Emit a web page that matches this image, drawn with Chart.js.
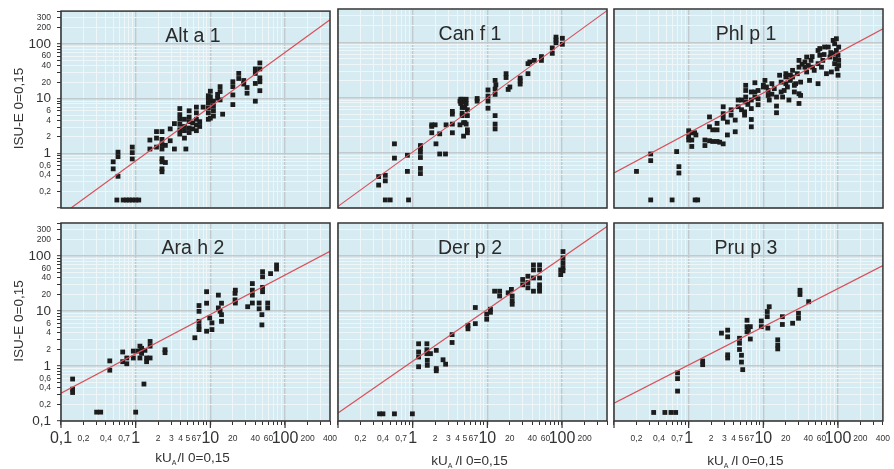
<!DOCTYPE html>
<html><head><meta charset="utf-8">
<script src="https://cdn.jsdelivr.net/npm/chart.js@4/dist/chart.umd.min.js"></script>
<style>
html,body{margin:0;padding:0;background:#fff;}
#wrap{position:relative;width:894px;height:469px;overflow:hidden;}
canvas{position:absolute;left:0;top:0;}
</style></head><body><div id="wrap">
<canvas id="c0" width="894" height="469"></canvas>
<canvas id="c1" width="894" height="469"></canvas>
<canvas id="c2" width="894" height="469"></canvas>
<canvas id="c3" width="894" height="469"></canvas>
<canvas id="c4" width="894" height="469"></canvas>
<canvas id="c5" width="894" height="469"></canvas>
</div>
<script>
// ---------- DATA ----------
const panelNames = ['Alt a 1','Can f 1','Phl p 1','Ara h 2','Der p 2','Pru p 3'];
const yTitle = 'ISU-E 0=0,15';
const xTitleMain = 'kU';
const xTitleSub = 'A';
const xTitleRest = '/l 0=0,15';

const altPoints = [[0.5,0.7],[0.5,0.52],[0.58,1.05],[0.58,0.87],[0.58,0.38],[0.56,0.14],[0.68,0.14],[0.75,0.14],[0.82,0.14],[0.9,0.14],[1.0,0.14],[1.1,0.14],
[0.9,1.3],[0.9,1.03],[0.9,0.79],[1.55,1.75],[1.55,1.2],[1.9,2.5],[1.9,1.9],[1.9,1.3],
[2.25,2.5],[2.25,1.8],[2.25,1.45],[2.25,1.2],[2.25,0.8],[2.25,0.7],[2.25,0.52],[2.25,0.46],[2.5,1.4],[2.5,0.68],
[2.9,2.8],[2.9,1.7],[3.3,3.5],[3.3,1.2],[3.9,6.6],[3.9,5.1],[3.9,4.2],[3.9,3.4],[3.9,2.7],[3.9,2.25],
[4.5,4.2],[4.5,3.1],[4.5,2.6],[4.5,1.9],[4.7,1.2],[5.2,6],[5.2,4.6],[5.2,3.8],[5.2,2.9],[5.2,2.4],[5.8,3.6],[5.8,2.8],
[6.5,7],[6.5,5.5],[6.5,4.2],[6.5,3.3],[6.5,2.6],[7.2,3.8],[7.2,3.1],[8,7],
[9.4,11.3],[9.4,10.1],[9.4,8.4],[9.4,6.8],[9.4,5.5],[9.4,4.2],[10,13.7],[10,10.8],[10,9],[10,4.4],
[11,9],[11,7.3],[11,6],[11,4.8],[12.5,12],[12.5,10.2],[13.5,16.6],[13.5,13.5],[13.5,9.5],[14.6,5.2],
[20,20.4],[20,16.6],[20,11.7],[20,7.8],[24,29],[24,23.4],[28,21.5],[28,18.5],[31,16],[31,12.6],
[40,35],[40,29],[40,19],[40,9],[46,45],[46,35],[46,24],[46,20.4],[46,14]];

const canPoints = [[0.35,0.37],[0.35,0.26],[0.43,0.39],[0.43,0.31],[0.43,0.14],[0.5,0.14],[0.57,1.45],[0.57,0.8],[0.85,0.9],[0.85,0.46],[0.88,0.14],
[1.27,1.35],[1.27,1.2],[1.27,1.02],[1.27,0.82],[1.27,0.52],[1.27,0.42],[1.8,3.2],[1.8,3.0],[1.8,2.3],[2.0,3.2],[2.05,1.45],[2.3,2.2],[2.3,0.95],[2.75,0.95],[2.8,3.2],
[3.4,5.6],[3.4,5.0],[3.4,3.3],[3.4,2.3],[4.3,8.6],[4.3,3.2],[4.4,9.3],[4.4,7.8],[4.6,6.6],[4.6,9.3],[5.0,8.2],[5.0,6.6],[5.2,9.3],[5.2,7.8],[5.4,6.0],[5.4,4.7],
[4.6,5.2],[4.6,4.7],[4.8,3.5],[4.8,2.0],[5.0,3.5],[5.2,3.3],[5.4,2.3],[5.4,2.6],[7.3,8.6],[7.3,9.6],
[10.2,13.7],[10.2,10.6],[10.2,8.6],[10.2,6.4],[12.7,20.4],[12.7,14.2],[12.7,11.4],[12.7,4.7],[12.7,3.3],[12.7,2.7],[13,17],
[17.8,27],[17.8,23],[19,14],[20,15.5],[27.5,22.5],[27.5,17.5],[27.5,20],[35,41],[37,44],[35,27],[42.5,47],[53,55],[53,47],
[74,79],[74,63],[83,124],[83,98],[83,110],[101,118],[101,92]];

const phlPoints = [[0.2,0.46],[0.31,0.95],[0.31,0.72],[0.31,0.14],[0.6,0.14],[0.69,1.05],[0.74,0.56],[0.74,0.43],[1.22,0.14],[1.32,0.14],
[1.0,2.5],[1.0,1.95],[1.0,1.7],[1.1,2.3],[1.1,1.7],[1.2,2.3],[1.25,2.1],[1.1,1.3],
[1.65,1.7],[1.65,1.35],[1.9,4.45],[1.9,2.95],[1.9,1.65],[2.1,2.6],[2.1,1.6],[2.4,3.4],[2.4,2.6],[2.4,1.6],[2.6,1.55],
[2.9,6.8],[2.9,5.1],[2.9,4.2],[2.9,1.45],[3.3,3.6],[3.3,2.1],[3.7,6.0],[3.7,4.8],[4.2,3.9],[4.2,2.4],[4.6,9],[4.6,6.8],[5.1,9],[5.1,6],[5.6,5.5],[5.6,4.8],
[5.8,16.6],[5.8,13.4],[5.8,10.2],[5.8,8.3],[6.9,12.6],[6.9,9],[6.9,6.3],[6.9,4],[6.9,2.95],[6.2,7.5],[7.7,18.5],[7.7,12.6],[7.7,10.2],[8.5,13.4],[8.5,9.5],[8.5,7.4],
[10,16.6],[10,15.5],[10.5,20.4],[11,15.5],[11.6,13.4],[11.6,10.9],[12,9],[13,17.8],[13,11.5],[14,14.5],[15,10.2],[15,7],[15,5.3],
[16.5,25.3],[17.3,19],[17.3,12.6],[18.1,10.2],[19,13.4],[20,27],[20,23.5],[20,17.8],[21,15.5],[22,9],[23,25.3],[23,20.4],[24.6,31],[24.6,23.5],[26,16.6],[26,12.6],[27,17.8],[28.5,27],
[30,47],[30,35.4],[30,11.7],[30,7.8],[31.5,19],[31.5,10.9],[36,44],[36,35.4],[38,54],[38,29],[40,38],[41.5,20.4],[43.5,47],[45.5,35.4],[48,31],
[54,71],[54,41],[54,17.8],[57,77],[57,58],[60,35.4],[62.5,47],[66,82],[70,27],[74,82],[78,54],[81.5,29],[86,108],[86,62],[90,94],[90,41],
[95,116],[95,71],[97,33],[100,25.3],[100,58],[102,82],[102,47],[102,38],[92,50],[80,65],[65,60],[45,55],[33,40]];

const araPoints = [[0.143,0.58],[0.143,0.38],[0.143,0.33],[0.3,0.145],[0.34,0.145],[0.45,1.24],[0.45,0.84],[0.67,1.8],[0.67,1.2],[0.76,1.4],[0.76,1.1],[0.93,1.87],[0.93,1.4],[1.0,0.145],
[1.08,1.87],[1.14,2.3],[1.14,1.4],[1.2,1.7],[1.29,0.47],[1.33,1.93],[1.4,1.4],[1.4,1.2],[1.56,2.8],[1.56,2.3],[1.56,1.4],[1.2,2.1],[2.47,1.98],[2.47,1.75],
[6.2,3.27],[7.05,12.6],[7.05,9.9],[7.05,6.5],[7.05,5.3],[7.05,4.6],[8.9,22.5],[8.9,13.9],[8.9,4.3],[9.8,7.5],[10.5,6.1],[10.5,4.6],
[12.8,19.5],[12.8,11.4],[13.5,9.9],[14.1,13.9],[14.1,8.6],[14.1,6.5],[21.4,21],[21.4,16],[21.6,14],[21.6,24],[31.6,12],
[36.5,31.6],[36.5,24],[36.5,19.5],[36.5,14],[45,14],[45,11],[49,8.6],[49,5.6],[50,52],[50,42],[50,27],[50,22.5],[58.6,14],[58.6,11.4],[64,48],[77,69],[77,58]];

const derPoints = [[0.36,0.135],[0.4,0.135],[0.57,0.135],[0.99,0.135],[1.2,2.54],[1.2,1.8],[1.2,1.46],[1.2,0.97],[1.55,2.54],[1.55,1.98],[1.55,1.68],[1.57,1.27],[1.57,1.03],[1.73,1.68],
[2.07,1.93],[2.07,0.9],[2.07,0.82],[2.55,1.3],[2.76,1.08],[3.37,3.73],[3.37,2.68],[5.5,5.5],[5.5,4.75],[6.9,11.6],[6.9,5.9],[9.8,8.8],[9.8,7.1],[11,10.8],[11,9.5],
[12.5,23],[14.6,23],[14.6,18.8],[19,21.5],[21,24.8],[21.5,15.4],[21.5,13.3],[21.5,18.8],[29.7,37.5],[29.7,30],[34.9,43],[34.9,33],[34.9,26.5],
[41.4,40],[41.4,23],[41.4,69],[41.4,56],[50,69],[50,56],[50,40],[50,30],[50,26],[50,23],[96,56],[96,46],[103,121],[103,93],[103,76],[103,62],[103,54]];

const pruPoints = [[0.34,0.143],[0.48,0.143],[0.58,0.143],[0.67,0.143],[0.71,0.75],[0.71,0.59],[0.71,0.35],[1.54,1.23],[1.54,1.06],[2.75,3.97],
[3.33,4.5],[3.33,3.4],[3.33,1.6],[3.33,1.4],[4.8,3.2],[4.8,2.6],[4.8,2.0],[5.1,1.57],[5.1,1.18],[5.3,0.86],[6.05,6.8],[6.05,5.2],[6.05,4.2],[6.3,4.5],[6.7,5.2],[6.7,3.1],
[9.4,6.6],[9.4,5.2],[11.3,9.8],[11.3,7.9],[11.5,4.9],[12,12],[15.6,3],[15.6,2.4],[15.6,2.05],[18,7.9],[18,5.7],[24.7,6],[29.6,9.1],[29.6,7.4],[31,23.9],[31,20],[40.5,14.8]];

const panelPoints = [altPoints, canPoints, phlPoints, araPoints, derPoints, pruPoints];

// regression lines (start / end points)
const fitStartX = [0.136, 0.1, 0.1, 0.1, 0.1, 0.1];
const fitStartY = [0.1, 0.107, 0.43, 0.32, 0.14, 0.21];
const fitEndX   = [400, 400, 400, 400, 400, 400];
const fitEndY   = [277, 374, 175, 122, 344, 67];

// axis ticks
const axisMin = 0.1, axisMax = 400;
const axisTicks = [0.1,0.2,0.3,0.4,0.5,0.6,0.7,0.8,0.9,1,2,3,4,5,6,7,8,9,10,20,30,40,50,60,70,80,90,100,200,300,400];
const majorTicks = [0.1,1,10,100];

const xLabelValsLeft  = [0.1,0.2,0.4,0.7,1,2,3,4,5,6,7,10,20,40,60,100,200,400];
const xLabelTextLeft  = ['0,1','0,2','0,4','0,7','1','2','3','4','5','6','7','10','20','40','60','100','200','400'];
const xLabelValsMid   = [0.2,0.4,0.7,1,2,3,4,5,6,7,10,20,40,60,100,200];
const xLabelTextMid   = ['0,2','0,4','0,7','1','2','3','4','5','6','7','10','20','40','60','100','200'];
const xLabelValsRight = [0.2,0.4,0.7,1,2,3,4,5,6,7,10,20,40,60,100,200,400];
const xLabelTextRight = ['0,2','0,4','0,7','1','2','3','4','5','6','7','10','20','40','60','100','200','400'];

const yLabelValsTop = [0.2,0.4,0.6,1,2,4,6,10,20,40,60,100,200,300];
const yLabelTextTop = ['0,2','0,4','0,6','1','2','4','6','10','20','40','60','100','200','300'];
const yLabelValsBot = [0.1,0.2,0.4,0.6,1,2,4,6,10,20,40,60,100,200,300];
const yLabelTextBot = ['0,1','0,2','0,4','0,6','1','2','4','6','10','20','40','60','100','200','300'];

// ---------- STYLE ----------
const FONT = '"Liberation Sans", Arial, Helvetica, sans-serif';
const BG = '#d6ecf2';
const MAJ = '#c3cacd';
const MIN = '#eef6f8';
const INK = '#2a2a2a';

function near(a, b){ return Math.abs(a - b) < Math.abs(b) * 1e-6; }
function isMajor(v){ return majorTicks.some(m => near(v, m)); }
function labelFor(v, vals, texts){ for (let i = 0; i < vals.length; i++) if (near(v, vals[i])) return texts[i]; return ''; }

const panelPlugin = {
  id: 'panel',
  beforeDraw(chart){
    const a = chart.chartArea, ctx = chart.ctx;
    ctx.save(); ctx.fillStyle = BG;
    ctx.fillRect(a.left, a.top, a.right - a.left, a.bottom - a.top);
    ctx.restore();
  },
  afterDraw(chart, args, opts){
    const a = chart.chartArea, ctx = chart.ctx;
    const idx = opts.idx, col = idx % 3, row = Math.floor(idx / 3);
    ctx.save();
    ctx.strokeStyle = '#333'; ctx.lineWidth = 1.5;
    ctx.strokeRect(a.left, a.top, a.right - a.left, a.bottom - a.top);
    if (row === 1) {
      ctx.strokeStyle = '#333'; ctx.lineWidth = 1.2;
      const xs = chart.scales.x;
      majorTicks.forEach(v => {
        const px = xs.getPixelForValue(v);
        ctx.beginPath(); ctx.moveTo(px, a.bottom); ctx.lineTo(px, a.bottom + 7); ctx.stroke();
      });
    }
    ctx.fillStyle = INK;
    ctx.font = '19.5px ' + FONT;
    ctx.textAlign = 'center'; ctx.textBaseline = 'alphabetic';
    const cx = (a.left + a.right) / 2 - 2.5;
    ctx.fillText(panelNames[idx], cx, a.top + 31);
    if (col === 0) {
      ctx.save();
      ctx.translate(22.5, (a.top + a.bottom) / 2 - 1);
      ctx.rotate(-Math.PI / 2);
      ctx.font = '13.5px ' + FONT; ctx.fillStyle = '#333';
      ctx.textAlign = 'center'; ctx.textBaseline = 'alphabetic';
      ctx.fillText(yTitle, 0, 0);
      ctx.restore();
    }
    if (row === 1) {
      const base = [462, 465, 465][col];
      ctx.font = '13.5px ' + FONT; ctx.fillStyle = '#333'; ctx.textAlign = 'left';
      const w1 = ctx.measureText(xTitleMain).width;
      const w3 = ctx.measureText(xTitleRest).width;
      ctx.font = '7px ' + FONT;
      const w2 = ctx.measureText(xTitleSub).width;
      const gap = col === 0 ? 1 : 3;
      const total = w1 + w2 + gap + w3;
      let x0 = (a.left + a.right) / 2 - 3 - total / 2;
      ctx.font = '13.5px ' + FONT;
      ctx.fillText(xTitleMain, x0, base);
      ctx.font = '7px ' + FONT;
      ctx.fillText(xTitleSub, x0 + w1, base + 3);
      ctx.font = '13.5px ' + FONT;
      ctx.fillText(xTitleRest, x0 + w1 + w2 + gap, base);
    }
    ctx.restore();
  }
};

const panelLeft = [61, 338, 614], panelRight = [330, 607, 883];
const panelTop = [9, 223], panelBottom = [208, 421];

function makeChart(idx){
  const col = idx % 3, row = Math.floor(idx / 3);
  const W = 894, H = 469;
  const yW = col === 0 ? 61 : 0;
  const xH = row === 1 ? 48 : 0;
  const xVals = [xLabelValsLeft, xLabelValsMid, xLabelValsRight][col];
  const xTexts = [xLabelTextLeft, xLabelTextMid, xLabelTextRight][col];
  const yVals = row === 0 ? yLabelValsTop : yLabelValsBot;
  const yTexts = row === 0 ? yLabelTextTop : yLabelTextBot;
  const pts = panelPoints[idx].map(p => ({x: p[0], y: p[1]}));
  const fit = [{x: fitStartX[idx], y: fitStartY[idx]}, {x: fitEndX[idx], y: fitEndY[idx]}];

  const gridOpts = (ticksOn) => ({
    color: c => (c.tick && isMajor(c.tick.value)) ? MAJ : MIN,
    lineWidth: c => (c.tick && isMajor(c.tick.value)) ? 1.4 : 1,
    drawTicks: ticksOn, tickLength: 4, tickColor: '#333', tickWidth: 1
  });

  new Chart(document.getElementById('c' + idx), {
    type: 'scatter',
    data: { datasets: [
      { type: 'scatter', data: fit, showLine: true, borderColor: '#d9505a', borderWidth: 1.2,
        pointRadius: 0, fill: false, order: 0 },
      { type: 'scatter', data: pts, pointStyle: 'rect', pointRadius: 3.4, pointBorderWidth: 0,
        backgroundColor: '#1c1c1c', borderColor: '#1c1c1c', order: 1 }
    ]},
    options: {
      responsive: false, animation: false, devicePixelRatio: 1,
      layout: { padding: { left: panelLeft[col] - yW, top: panelTop[row], right: W - panelRight[col], bottom: H - panelBottom[row] - xH } },
      plugins: { legend: { display: false }, tooltip: { enabled: false }, panel: { idx } },
      scales: {
        x: {
          type: 'logarithmic', position: 'bottom', min: axisMin, max: axisMax,
          afterBuildTicks: s => { s.ticks = axisTicks.map(v => ({ value: v, major: false })); },
          afterFit: s => { s.height = xH; },
          grid: gridOpts(row === 1),
          border: { display: false },
          ticks: {
            display: row === 1, autoSkip: false, maxRotation: 0, minRotation: 0, padding: 4,
            color: '#333',
            callback: v => labelFor(v, xVals, xTexts),
            font: c => (c.tick && isMajor(c.tick.value)) ? { family: FONT, size: 16, lineHeight: 1.2 } : { family: FONT, size: 8.5, lineHeight: 2.2 }
          }
        },
        y: {
          type: 'logarithmic', position: 'left', min: axisMin, max: axisMax,
          afterBuildTicks: s => { s.ticks = axisTicks.map(v => ({ value: v, major: false })); },
          afterFit: s => { s.width = yW; },
          grid: gridOpts(col === 0),
          border: { display: false },
          ticks: {
            display: col === 0, autoSkip: false, padding: 6, color: '#333',
            callback: v => labelFor(v, yVals, yTexts),
            font: c => (c.tick && isMajor(c.tick.value)) ? { family: FONT, size: 13.5 } : { family: FONT, size: 8.5 }
          }
        }
      }
    },
    plugins: [panelPlugin]
  });
}

for (let i = 0; i < 6; i++) makeChart(i);
</script>
</body></html>
